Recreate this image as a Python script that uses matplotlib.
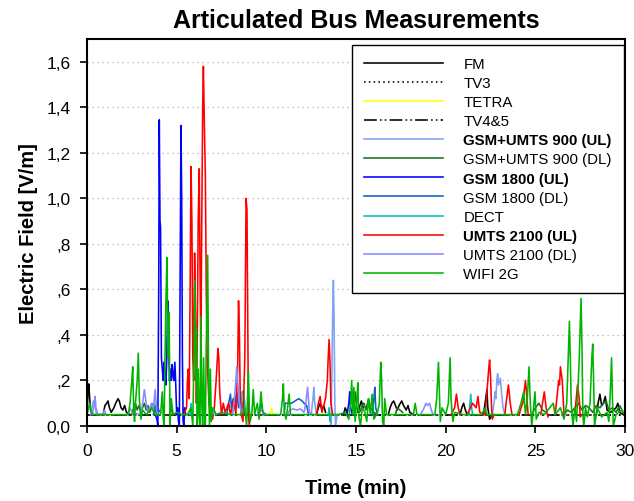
import numpy as np
import matplotlib
matplotlib.use("Agg")
import matplotlib.pyplot as plt

plt.rcParams['font.family'] = ['Liberation Sans', 'DejaVu Sans']

N = float('nan')
GAP = (N, N)

title = "Articulated Bus Measurements"
x_label = "Time (min)"
y_label = "Electric Field [V/m]"
x_ticks = [0, 5, 10, 15, 20, 25, 30]
y_ticks = [0.0, 0.2, 0.4, 0.6, 0.8, 1.0, 1.2, 1.4, 1.6]
y_tick_labels = ["0,0", ",2", ",4", ",6", ",8", "1,0", "1,2", "1,4", "1,6"]

fm = [(0.0,0.06),(0.05,0.14),(0.1,0.185),(0.15,0.12),(0.2,0.07),(0.3,0.05),(0.9,0.05),(1.0,0.09),(1.1,0.1),(1.17,0.11),
      (1.25,0.08),(1.35,0.06),(1.5,0.08),(1.6,0.1),(1.73,0.12),(1.8,0.11),(1.9,0.08),(2.0,0.07),(2.1,0.09),(2.2,0.06),(2.4,0.05),GAP,
      (12.8,0.05),(12.9,0.08),(13.0,0.1),(13.1,0.07),(13.2,0.09),(13.3,0.06),GAP,
      (14.3,0.05),(14.4,0.08),(14.5,0.06),GAP,(15.1,0.06),(15.3,0.11),(15.4,0.08),GAP,
      (16.8,0.05),(16.9,0.08),(17.0,0.1),(17.1,0.11),(17.2,0.09),(17.3,0.07),(17.4,0.09),(17.55,0.11),(17.65,0.09),(17.8,0.07),
      (17.9,0.09),(18.0,0.06),(18.2,0.05),GAP,(20.8,0.05),(20.9,0.08),(21.0,0.1),(21.1,0.07),(21.2,0.05),GAP,
      (22.1,0.05),(22.2,0.1),(22.3,0.16),(22.35,0.08),(22.45,0.03),(22.6,0.05),GAP,
      (28.4,0.05),(28.5,0.1),(28.6,0.14),(28.7,0.09),(28.8,0.1),(28.9,0.13),(29.0,0.07),(29.2,0.06),(29.5,0.08),(29.6,0.1),(29.7,0.06),(29.9,0.05)]
tv3 = [(0.0,0.05),(30.0,0.05)]
tetra = [(10.2,0.05),(10.3,0.08),(10.35,0.05)]
tv45 = [(0.0,0.05),(30.0,0.05)]
gsm900_ul = [(0.2,0.05),(0.35,0.11),(0.45,0.08),(0.55,0.05),GAP,(12.5,0.05),(12.6,0.12),(12.65,0.17),(12.7,0.1),(12.8,0.05),GAP,
             (13.55,0.05),(13.6,0.0),(13.65,0.2),(13.7,0.5),(13.74,0.64),(13.78,0.45),(13.82,0.1),(13.86,0.0),(13.95,0.05),GAP,
             (22.6,0.05),(22.7,0.1),(22.75,0.15),(22.8,0.12),(22.85,0.2),(22.9,0.23),(22.95,0.18),(23.05,0.21),(23.1,0.16),(23.2,0.08),(23.3,0.05)]
gsm900_dl = [(2.5,0.05),(2.6,0.08),(2.7,0.1),(2.8,0.07),(2.9,0.09),(3.0,0.06),(3.1,0.08),(3.2,0.1),(3.3,0.07),(3.4,0.09),(3.5,0.06),
             (3.6,0.08),(3.7,0.1),(3.8,0.07),(3.9,0.05),GAP,(14.8,0.05),(14.9,0.1),(14.95,0.15),(15.05,0.08),(15.2,0.06),(15.35,0.09),
             (15.45,0.1),(15.55,0.07),(15.7,0.12),(15.8,0.08),(16.0,0.06),(16.2,0.05),GAP,(17.2,0.05),(17.3,0.08),(17.45,0.07),(17.6,0.06),GAP,
             (24.8,0.05),(25.0,0.08),(25.2,0.1),(25.4,0.07),(25.6,0.06),GAP,(26.6,0.05),(26.8,0.07),(27.0,0.06),(27.2,0.08),(27.4,0.1),
             (27.6,0.07),(27.8,0.09),(28.0,0.08),(28.2,0.06),(28.4,0.09),(28.6,0.08),(28.8,0.1),(28.95,0.11),(29.1,0.07),(29.3,0.08),
             (29.5,0.06),(29.7,0.09),(29.9,0.06),(30.0,0.05)]
gsm1800_ul = [(3.8,0.05),(3.9,0.03),(3.95,0.0),(4.0,0.6),(4.03,1.345),(4.07,0.9),(4.1,0.875),(4.15,0.3),(4.2,0.25),(4.25,0.2),
              (4.3,0.28),(4.35,0.22),(4.4,0.18),(4.45,0.3),(4.5,0.55),(4.55,0.38),(4.6,0.2),(4.65,0.25),(4.7,0.2),(4.75,0.27),
              (4.8,0.22),(4.85,0.2),(4.9,0.28),(4.95,0.18),(5.0,0.05),(5.05,0.08),(5.1,0.02),(5.15,0.0),(5.2,0.75),(5.24,1.32),
              (5.28,1.0),(5.32,0.3),(5.36,0.02),(5.4,0.0),(5.45,0.08),(5.5,0.05),GAP,(14.5,0.05),(14.6,0.1),(14.65,0.15),(14.7,0.08),(14.8,0.05)]
gsm1800_dl = [(3.7,0.05),(3.8,0.08),(3.9,0.1),(4.0,0.07),(4.1,0.06),GAP,(7.8,0.05),(7.9,0.1),(8.0,0.14),(8.05,0.08),(8.15,0.12),
              (8.25,0.1),(8.35,0.15),(8.45,0.08),(8.55,0.13),(8.65,0.1),(8.75,0.06),(8.85,0.05),GAP,(9.6,0.05),(9.7,0.1),(9.75,0.08),
              (9.85,0.05),GAP,(11.0,0.05),(11.05,0.1),(11.2,0.1),(11.4,0.1),(11.6,0.11),(11.8,0.12),(12.0,0.11),(12.1,0.1),(12.25,0.09),
              (12.35,0.05),GAP,(15.9,0.05),(16.0,0.12),(16.05,0.17),(16.1,0.08),(16.2,0.05)]
dect = [(5.75,0.05),(5.8,0.1),(5.85,0.06),GAP,(8.1,0.05),(8.2,0.1),(8.3,0.06),GAP,(8.6,0.05),(8.65,0.15),(8.72,0.155),(8.8,0.1),
        (8.85,0.05),GAP,(13.45,0.05),(13.5,0.08),(13.55,0.02),(13.6,0.05),GAP,(21.3,0.05),(21.4,0.14),(21.45,0.08),(21.5,0.05)]
umts2100_ul = [(4.6,0.05),(4.7,0.075),(4.8,0.05),GAP,(5.4,0.05),(5.55,0.08),(5.6,0.2),(5.65,0.25),(5.7,0.12),(5.75,0.6),(5.8,1.14),
               (5.85,0.9),(5.9,0.3),(5.95,0.2),(6.0,0.76),(6.05,0.5),(6.1,0.1),(6.15,0.4),(6.2,0.9),(6.26,1.13),(6.3,0.7),(6.35,0.3),
               (6.4,0.9),(6.45,1.4),(6.49,1.58),(6.55,1.3),(6.6,1.1),(6.65,0.6),(6.7,0.3),(6.8,0.1),(6.9,0.05),(7.0,0.03),(7.1,0.08),
               (7.2,0.2),(7.3,0.34),(7.35,0.3),(7.4,0.15),(7.5,0.05),(7.6,0.1),(7.7,0.06),(7.9,0.1),(8.0,0.05),(8.2,0.12),(8.3,0.05),
               (8.4,0.25),(8.45,0.55),(8.5,0.4),(8.55,0.1),(8.6,0.05),(8.7,0.02),(8.8,0.3),(8.87,1.0),(8.92,0.95),(8.97,0.4),(9.0,0.05),
               (9.05,0.0),(9.1,0.05),GAP,(12.8,0.05),(12.9,0.1),(13.0,0.13),(13.1,0.06),(13.3,0.12),(13.4,0.2),(13.45,0.3),(13.5,0.38),
               (13.55,0.28),(13.6,0.1),(13.7,0.05),GAP,(20.3,0.05),(20.5,0.08),(20.6,0.14),(20.7,0.08),(20.8,0.05),GAP,(21.2,0.05),
               (21.5,0.1),(21.7,0.08),(21.8,0.13),(21.9,0.06),(22.2,0.05),(22.3,0.15),(22.4,0.25),(22.45,0.29),(22.5,0.22),(22.55,0.1),
               (22.6,0.03),(22.7,0.05),GAP,(23.3,0.05),(23.4,0.12),(23.5,0.18),(23.6,0.1),(23.7,0.05),GAP,(24.1,0.05),(24.2,0.08),
               (24.3,0.1),(24.45,0.2),(24.5,0.15),(24.6,0.05),GAP,(25.3,0.05),(25.4,0.1),(25.5,0.15),(25.6,0.08),(25.7,0.04),GAP,
               (26.1,0.05),(26.2,0.12),(26.3,0.2),(26.35,0.18),(26.4,0.26),(26.5,0.2),(26.6,0.05),GAP,(27.2,0.05),(27.35,0.18),
               (27.45,0.12),(27.5,0.04),(27.6,0.05)]
umts2100_dl = [(0.3,0.05),(0.4,0.1),(0.45,0.13),(0.5,0.08),(0.6,0.05),(0.9,0.05),(0.97,0.07),(1.05,0.05),GAP,(2.3,0.05),(2.4,0.08),
               (2.5,0.06),(3.0,0.05),(3.1,0.1),(3.2,0.16),(3.3,0.1),(3.4,0.06),(3.5,0.08),(3.6,0.1),(3.7,0.07),(3.8,0.16),(3.85,0.1),
               (3.9,0.06),(4.0,0.05),GAP,(7.0,0.05),(7.1,0.07),(7.2,0.05),GAP,(8.1,0.05),(8.2,0.1),(8.3,0.2),(8.35,0.26),(8.4,0.2),
               (8.5,0.1),(8.6,0.06),GAP,(9.5,0.05),(9.6,0.07),(9.65,0.08),(9.8,0.06),(10.0,0.05),GAP,(11.2,0.05),(11.3,0.07),
               (11.5,0.075),(11.7,0.07),(11.9,0.075),(12.1,0.06),(12.2,0.1),(12.3,0.17),(12.35,0.12),(12.4,0.06),(12.6,0.05),GAP,
               (18.6,0.05),(18.8,0.08),(18.9,0.1),(19.0,0.09),(19.1,0.1),(19.2,0.07),(19.3,0.05)]
wifi_2g = [(0.0,0.05),(0.15,0.1),(0.25,0.06),(0.35,0.05),(0.5,0.05),(2.3,0.05),(2.4,0.1),(2.5,0.2),(2.55,0.26),(2.6,0.08),(2.65,0.02),
           (2.7,0.1),(2.8,0.2),(2.86,0.32),(2.92,0.12),(3.0,0.03),(3.1,0.07),(3.3,0.05),(3.6,0.08),(3.8,0.05),(4.1,0.05),(4.2,0.15),
           (4.25,0.03),(4.3,0.0),(4.35,0.3),(4.4,0.55),(4.46,0.74),(4.52,0.3),(4.58,0.5),(4.63,0.0),(4.7,0.12),(4.8,0.05),(5.0,0.06),
           (5.3,0.05),(5.6,0.05),(5.8,0.08),(5.9,0.0),(5.96,0.3),(6.02,0.64),(6.07,0.2),(6.1,0.43),(6.15,0.0),(6.2,0.25),(6.25,0.05),
           (6.3,0.0),(6.35,0.48),(6.4,0.1),(6.45,0.0),(6.5,0.3),(6.55,0.05),(6.6,0.0),(6.65,0.35),(6.7,0.59),(6.73,0.75),(6.78,0.2),
           (6.83,0.0),(6.88,0.25),(6.93,0.02),(7.0,0.08),(7.2,0.05),(7.5,0.06),(8.0,0.05),(8.6,0.05),(8.8,0.08),(8.9,0.0),(8.95,0.12),
           (9.0,0.24),(9.05,0.08),(9.1,0.02),(9.2,0.06),(9.27,0.16),(9.35,0.05),(9.5,0.1),(9.6,0.03),(9.7,0.15),(9.8,0.06),(10.0,0.05),
           (10.8,0.05),(10.9,0.12),(10.95,0.185),(11.0,0.06),(11.1,0.03),(11.2,0.09),(11.27,0.14),(11.35,0.05),(11.5,0.05),(12.5,0.05),
           (13.0,0.05),(14.0,0.05),(14.4,0.06),(14.6,0.03),(14.7,0.1),(14.76,0.2),(14.82,0.05),(14.88,0.17),(14.95,0.02),(15.05,0.12),
           (15.1,0.19),(15.15,0.05),(15.25,0.0),(15.35,0.08),(15.5,0.06),(15.6,0.02),(15.7,0.12),(15.8,0.05),(15.9,0.14),(16.0,0.03),
           (16.2,0.06),(16.3,0.1),(16.38,0.28),(16.43,0.2),(16.48,0.02),(16.55,0.0),(16.6,0.12),(16.7,0.05),(17.0,0.05),(17.5,0.05),
           (18.2,0.05),(18.3,0.1),(18.4,0.05),(19.0,0.05),(19.4,0.05),(19.5,0.12),(19.6,0.28),(19.65,0.15),(19.7,0.02),(19.8,0.08),
           (20.0,0.05),(20.15,0.1),(20.25,0.3),(20.3,0.12),(20.4,0.02),(20.5,0.06),(21.0,0.05),(22.0,0.05),(22.2,0.08),(22.3,0.05),
           (23.0,0.05),(24.0,0.05),(24.2,0.1),(24.35,0.15),(24.45,0.05),(24.55,0.12),(24.65,0.26),(24.72,0.1),(24.8,0.0),(24.9,0.08),
           (24.98,0.15),(25.05,0.03),(25.2,0.06),(25.5,0.05),(26.0,0.1),(26.1,0.05),(26.4,0.08),(26.6,0.03),(26.75,0.1),(26.85,0.35),
           (26.9,0.46),(26.95,0.3),(27.0,0.1),(27.1,0.0),(27.2,0.08),(27.3,0.02),(27.45,0.3),(27.55,0.56),(27.6,0.35),(27.65,0.05),
           (27.7,0.0),(27.8,0.08),(27.9,0.04),(28.05,0.1),(28.15,0.3),(28.2,0.36),(28.25,0.2),(28.3,0.0),(28.45,0.08),(28.7,0.04),
           (29.0,0.06),(29.1,0.02),(29.18,0.15),(29.25,0.3),(29.3,0.12),(29.35,0.0),(29.5,0.05),(29.8,0.07),(30.0,0.05)]

series = [
    ("FM", fm, "#000000", "-", False),
    ("TV3", tv3, "#000000", (0, (1, 2)), False),
    ("TETRA", tetra, "#FFFF00", "-", False),
    ("TV4&5", tv45, "#000000", (0, (8, 2, 1, 2, 1, 2)), False),
    ("GSM+UMTS 900 (UL)", gsm900_ul, "#7FA2F2", "-", True),
    ("GSM+UMTS 900 (DL)", gsm900_dl, "#1E6E1E", "-", False),
    ("GSM 1800 (UL)", gsm1800_ul, "#0000FF", "-", True),
    ("GSM 1800 (DL)", gsm1800_dl, "#1060C8", "-", False),
    ("DECT", dect, "#00C0C0", "-", False),
    ("UMTS 2100 (UL)", umts2100_ul, "#FF0000", "-", True),
    ("UMTS 2100 (DL)", umts2100_dl, "#8A8AFF", "-", False),
    ("WIFI 2G", wifi_2g, "#00B400", "-", False),
]

fig = plt.figure(figsize=(6.34, 5.02), dpi=100)
ax = fig.add_axes([87/634, 1-427/502, (625-87)/634, (427-40)/502])

for label, data, color, ls, bold in series:
    arr = np.array(data, dtype=float)
    ax.plot(arr[:, 0], arr[:, 1], color=color, linestyle=ls, lw=1.15, label=label)

ax.set_xlim(0, 30)
ax.set_ylim(0, 1.7)
ax.set_xticks(x_ticks)
ax.set_yticks(y_ticks)
ax.set_yticklabels(y_tick_labels)
ax.tick_params(direction='out', length=5, width=1.2, labelsize=12.5)
ax.tick_params(axis='x', pad=7)
ax.tick_params(axis='y', pad=7)
for s in ax.spines.values():
    s.set_linewidth(1.5)
ax.yaxis.grid(True, linestyle=(0, (1, 3)), color='#B0B0B0', lw=0.9)
ax.set_axisbelow(True)

ax.set_title(title, fontsize=18, fontweight='bold', pad=9)
ax.set_xlabel(x_label, fontsize=14.5, fontweight='bold', labelpad=15)
ax.set_ylabel(y_label, fontsize=14.5, fontweight='bold', labelpad=6)

leg = ax.legend(loc='upper right', bbox_to_anchor=(0.998, 0.9845), borderaxespad=0,
                fontsize=10.8, handlelength=5.3, handletextpad=1.35, labelspacing=0.34,
                borderpad=0.8, fancybox=False, framealpha=1, edgecolor='black')
leg.get_frame().set_linewidth(1.0)
for txt, (_, _, _, _, bold) in zip(leg.get_texts(), series):
    if bold:
        txt.set_fontweight('bold')

fig.savefig("out.png", dpi=100)
